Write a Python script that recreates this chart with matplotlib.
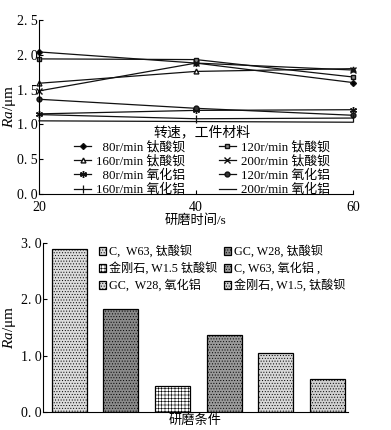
import matplotlib
matplotlib.use('Agg')
import matplotlib.pyplot as plt

plt.rcParams['font.family'] = ['Liberation Serif', 'Noto Sans CJK SC']
plt.rcParams['mathtext.fontset'] = 'custom'
plt.rcParams['mathtext.it'] = 'Liberation Serif:italic'
plt.rcParams['mathtext.rm'] = 'Liberation Serif'
plt.rcParams['hatch.linewidth'] = 0.4

# 上图：研磨时间 vs Ra
time_s = [20, 40, 60]
series_labels = ['  80r/min 钛酸钡', '120r/min 钛酸钡', '160r/min 钛酸钡', '200r/min 钛酸钡',
                 '  80r/min 氧化铝', '120r/min 氧化铝', '160r/min 氧化铝', '200r/min 氧化铝']
ra_80_bt = [2.04, 1.88, 1.60]
ra_120_bt = [1.94, 1.93, 1.68]
ra_160_bt = [1.59, 1.76, 1.80]
ra_200_bt = [1.48, 1.88, 1.78]
ra_80_al = [1.15, 1.20, 1.21]
ra_120_al = [1.36, 1.23, 1.13]
ra_160_al = [1.14, 1.08, 1.09]
ra_200_al = [1.05, 1.04, 1.03]
y_ticks_top = [0.0, 0.5, 1.0, 1.5, 2.0, 2.5]

# 下图：研磨条件 vs Ra
bar_labels = ['C,  W63, 钛酸钡', 'GC, W28, 钛酸钡', '金刚石, W1.5 钛酸钡',
              'C, W63, 氧化铝 ,', 'GC,  W28, 氧化铝', '金刚石, W1.5, 钛酸钡']
bar_values = [2.90, 1.82, 0.47, 1.36, 1.05, 0.59]
y_ticks_bot = [0.0, 1.0, 2.0, 3.0]

fig = plt.figure(figsize=(3.91, 4.30), dpi=100)

# ---- top chart ----
ax1 = fig.add_axes([0.0997, 0.549, 0.803, 0.4047])
data = [ra_80_bt, ra_120_bt, ra_160_bt, ra_200_bt, ra_80_al, ra_120_al, ra_160_al, ra_200_al]
styles = [
    dict(marker='D', ms=3, mfc='black'),
    dict(marker='s', ms=3.5, mfc='#888888'),
    dict(marker='^', ms=3.5, mfc='white'),
    dict(marker='x', ms=4, mew=1),
    dict(marker=(6, 2, 0), ms=5, mew=1),
    dict(marker='o', ms=3.5, mfc='#333333'),
    dict(marker='|', ms=6, mew=0.9),
    dict(marker=None),
]
handles = []
for vals, lab, st in zip(data, series_labels, styles):
    ln, = ax1.plot(time_s, vals, color='#111111', lw=0.9, mec='#111111', clip_on=False, label=lab, **st)
    handles.append(ln)

ax1.set_xlim(20, 60)
ax1.set_ylim(0, 2.5)
ax1.set_xticks(time_s)
ax1.set_yticks(y_ticks_top)
ax1.set_yticklabels([f'{v:.1f}'.replace('.', '. ') for v in y_ticks_top])
ax1.tick_params(direction='in', length=3, labelsize=10, pad=1)
ax1.tick_params(axis='x', pad=5)
ax1.spines['top'].set_visible(False)
ax1.spines['right'].set_visible(False)
ax1.set_xlabel('研磨时间/s', fontsize=9.5, labelpad=0)
ax1.set_ylabel('$Ra$/μm', fontsize=11)
ax1.yaxis.set_label_coords(-0.068, 0.5)

order = [0, 2, 4, 6, 1, 3, 5, 7]
ax1.legend([handles[i] for i in order], [series_labels[i] for i in order],
           ncol=2, frameon=False, title='转速，工件材料', title_fontsize=10,
           fontsize=9.3, loc='lower center', bbox_to_anchor=(0.52, -0.05),
           handlelength=1.3, handletextpad=0.4, labelspacing=0.15,
           columnspacing=2.6, borderpad=0.0)

# ---- bottom chart ----
ax2 = fig.add_axes([0.110, 0.0419, 0.78, 0.393])
faces = ['#dcdcdc', '#8a8a8a', 'white', '#9a9a9a', '#d8d8d8', '#d0d0d0']
hatches = ['......', '......', '+++++', '......', '......', '......']
x = list(range(len(bar_values)))
bars = ax2.bar(x, bar_values, width=0.68, color=faces, edgecolor='black', linewidth=0.9,
               hatch=hatches)
ax2.set_xlim(-0.51, 5.4)
ax2.set_ylim(0, 3.0)
ax2.set_xticks([])
ax2.set_yticks(y_ticks_bot)
ax2.set_yticklabels([f'{v:.1f}'.replace('.', '. ') for v in y_ticks_bot])
ax2.tick_params(direction='in', length=3, labelsize=10, pad=1)
ax2.spines['top'].set_visible(False)
ax2.spines['right'].set_visible(False)
ax2.set_xlabel('研磨条件', fontsize=9.5, labelpad=2)
ax2.set_ylabel('$Ra$/μm', fontsize=11)
ax2.yaxis.set_label_coords(-0.082, 0.5)

border = [0, 2, 4, 1, 3, 5]
ax2.legend([bars[i] for i in border], [bar_labels[i] for i in border], ncol=2,
           frameon=False, fontsize=8.7, loc='upper left', bbox_to_anchor=(0.16, 1.03),
           handlelength=0.6, handleheight=0.6, handletextpad=0.25, labelspacing=0.35,
           columnspacing=0.5, borderpad=0.1)

fig.savefig('out.png', dpi=100)
